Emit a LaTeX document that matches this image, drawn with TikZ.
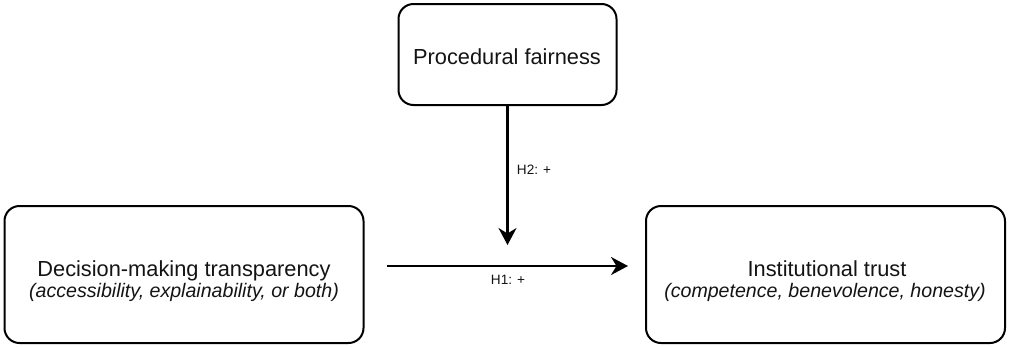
\documentclass[tikz,border=0pt]{standalone}
\usepackage{fontspec}
\setmainfont{Liberation Sans}
\usetikzlibrary{arrows.meta}
\tikzset{
  box/.style={draw=black, line width=2pt, rounded corners=15pt, fill=white, inner sep=0pt},
  maintxt/.style={font=\fontsize{21.8}{24}\selectfont, inner sep=0pt, text=black!92},
  subtxt/.style={font=\fontsize{19.6}{22}\selectfont\itshape, inner sep=0pt, text=black!92},
  lbl/.style={font=\fontsize{13.6}{15}\selectfont, inner sep=0pt, text=black!92},
  arr/.style={line width=2.1pt, -{Stealth[length=17pt, width=18pt, inset=5.5pt]}}
}
\begin{document}
\begin{tikzpicture}[x=1pt, y=-1pt]
\useasboundingbox (0,0) rectangle (1011,346);
% boxes
\node[box, minimum width=218pt, minimum height=101pt] (pf) at (507.5,54.5) {};
\node[box, minimum width=359pt, minimum height=137pt] (dt) at (184,274.5) {};
\node[box, minimum width=359pt, minimum height=137pt] (it) at (825.5,274.5) {};
% texts
\node[maintxt, anchor=base] (pft) at (507,64) {Procedural fairness};
\node[maintxt, anchor=base] (dt1) at (184,276) {Decision-making transparency};
\node[subtxt, anchor=base] (dt2) at (184,297) {(accessibility, explainability, or both)};
\node[maintxt, anchor=base] (it1) at (827,276) {Institutional trust};
\node[subtxt, anchor=base] (it2) at (825,297) {(competence, benevolence, honesty)};
% connectors
\coordinate (vtip) at (507.5,245);
\coordinate (hs) at (387,266);
\coordinate (he) at (628,266);
\draw[arr] (pf.south) -- (vtip);
\draw[arr] (hs) -- (he);
% labels
\node[lbl] (h2) at (534,170) {H2: +};
\node[lbl] (h1) at (508,280) {H1: +};
\end{tikzpicture}
\end{document}
